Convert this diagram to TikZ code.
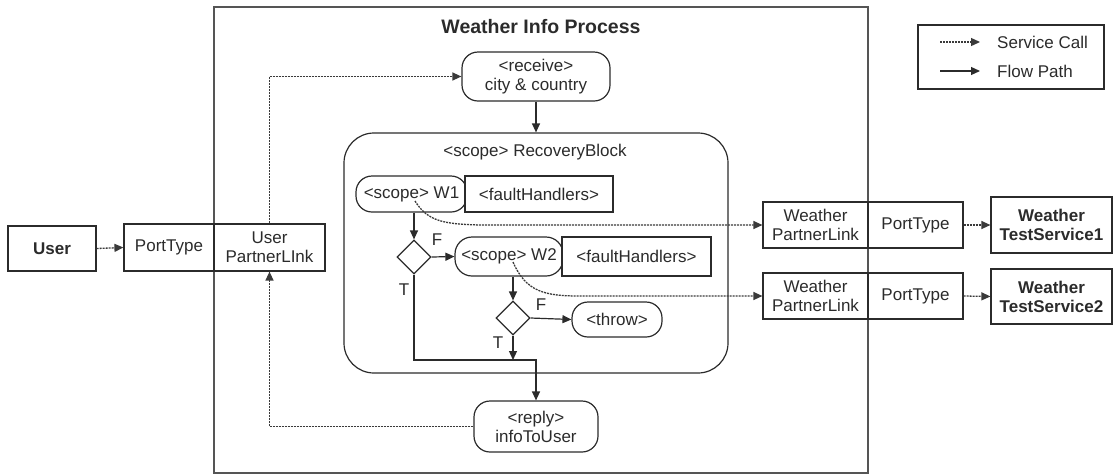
\documentclass[tikz,border=0pt]{standalone}
\usepackage{fontspec}
\setmainfont{Liberation Sans}
\usetikzlibrary{arrows.meta,shapes.geometric}
\definecolor{ink}{HTML}{2B2B2B}
\definecolor{dotc}{HTML}{3A3A3A}
\tikzset{
  base/.style={font=\fontsize{17}{19}\selectfont, text=ink, inner sep=0pt},
  boxed/.style={base, draw=ink, line width=1.2pt, align=center},
  activity/.style={boxed, rounded corners=16pt},
  decision/.style={draw=ink, line width=1.2pt, diamond, minimum width=34pt, minimum height=34pt, inner sep=0pt},
  flow/.style={draw=ink, line width=1.2pt, -{Triangle[length=9pt,width=8pt]}},
  svc/.style={draw=dotc, line width=1.3pt, dash pattern=on 2pt off 1pt, -{Triangle[length=9pt,width=8pt]}},
  lbl/.style={base},
}
\begin{document}
\begin{tikzpicture}[x=1pt,y=-1pt]
\useasboundingbox (0,0) rectangle (1114,475);

% process container
\node[draw=ink!80, line width=1.8pt, minimum width=654pt, minimum height=466pt, inner sep=0pt] (proc) at (541,240) {};
\node[base, font=\fontsize{19.5}{21}\selectfont\bfseries] (title) at (541,27) {Weather Info Process};

% receive
\node[activity, minimum width=148pt, minimum height=49pt] (receive) at (536,76.5) {<receive>\\city \& country};

% recovery block scope
\node[boxed, rounded corners=30pt, minimum width=384pt, minimum height=240pt] (rb) at (536,253) {};
\node[lbl] (rblbl) at (535,152) {<scope> RecoveryBlock};

% W1 scope with its fault handlers
\node[activity, rounded corners=16pt, minimum width=111pt, minimum height=36pt] (w1) at (411.5,194) {<scope> W1};
\node[boxed, fill=white, minimum width=148pt, minimum height=36pt] (fh1) at (539,194) {<faultHandlers>};

\node[decision] (d1) at (414,257) {};

% W2 scope with its fault handlers
\node[activity, rounded corners=17pt, minimum width=108pt, minimum height=39pt] (w2) at (509,256.5) {<scope> W2};
\node[boxed, fill=white, minimum width=149pt, minimum height=39pt] (fh2) at (636.5,256.5) {<faultHandlers>};

\node[decision] (d2) at (513,318) {};
\node[activity, minimum width=90pt, minimum height=35pt] (throw) at (617,319.5) {<throw>};

% reply
\node[activity, minimum width=124pt, minimum height=51pt] (reply) at (536,426.5) {<reply>\\infoToUser};

% user side
\node[boxed, font=\fontsize{17}{19}\selectfont\bfseries, minimum width=88pt, minimum height=45pt] (user) at (52,248.5) {User};
\node[boxed, minimum width=90pt, minimum height=47pt] (upt) at (169,247.5) {PortType};
\node[boxed, minimum width=111pt, minimum height=47pt] (upl) at (269.5,247.5) {User\\PartnerLInk};

% weather services side
\node[boxed, minimum width=105pt, minimum height=46pt] (wpl1) at (815.5,225) {Weather\\PartnerLink};
\node[boxed, minimum width=95pt, minimum height=46pt] (wpt1) at (915.5,225) {PortType};
\node[boxed, font=\fontsize{17}{19}\selectfont\bfseries, minimum width=121pt, minimum height=56pt] (ws1) at (1051.5,225) {Weather\\TestService1};

\node[boxed, minimum width=105pt, minimum height=46pt] (wpl2) at (815.5,296) {Weather\\PartnerLink};
\node[boxed, minimum width=95pt, minimum height=46pt] (wpt2) at (915.5,296) {PortType};
\node[boxed, font=\fontsize{17}{19}\selectfont\bfseries, minimum width=121pt, minimum height=55pt] (ws2) at (1051.5,296.5) {Weather\\TestService2};

% legend
\node[draw=ink, line width=1.3pt, minimum width=186pt, minimum height=64pt, inner sep=0pt] (legend) at (1011,57) {};
\coordinate (lsa) at (940,42);  \coordinate (lsb) at (980,42);
\coordinate (lfa) at (940,71);  \coordinate (lfb) at (980,71);
\draw[svc] (lsa) -- (lsb);
\draw[flow] (lfa) -- (lfb);
\node[lbl, anchor=west] (lsc) at (997,42) {Service Call};
\node[lbl, anchor=west] (lfp) at (997,71) {Flow Path};

% flow paths
\draw[flow] (receive.south) -- (rb.north -| receive.south);
\draw[flow] (d1.north |- w1.south) -- (d1.north);
\draw[flow] (d1.east) -- (w2.west);
\draw[flow] (d2.north |- w2.south) -- (d2.north);
\draw[flow] (d2.east) -- (throw.west);
\coordinate (join) at (536,360);
\draw[flow] (d2.south) -- (d2.south |- join);
\draw[flow] (d1.south) |- (join) -- (reply.north);

\node[lbl] (f1) at (437,240) {F};
\node[lbl] (t1) at (404,290) {T};
\node[lbl] (f2) at (541,305) {F};
\node[lbl] (t2) at (498,343) {T};

% service calls
\draw[svc] (user.east) -- (upt.west);
\draw[svc] (upl.north) |- (receive.west);
\draw[svc] (reply.west) -| (upl.south);
\coordinate (c1) at (415,201);
\coordinate (c2) at (513,262);
\draw[svc] (c1) .. controls (428,222) and (445,224) .. (480,225) -- (wpl1.west);
\draw[svc] (c2) .. controls (526,292) and (545,296) .. (580,296) -- (wpl2.west);
\draw[svc] (wpt1.east) -- (ws1.west);
\draw[svc] (wpt2.east) -- (ws2.west);
\end{tikzpicture}
\end{document}
